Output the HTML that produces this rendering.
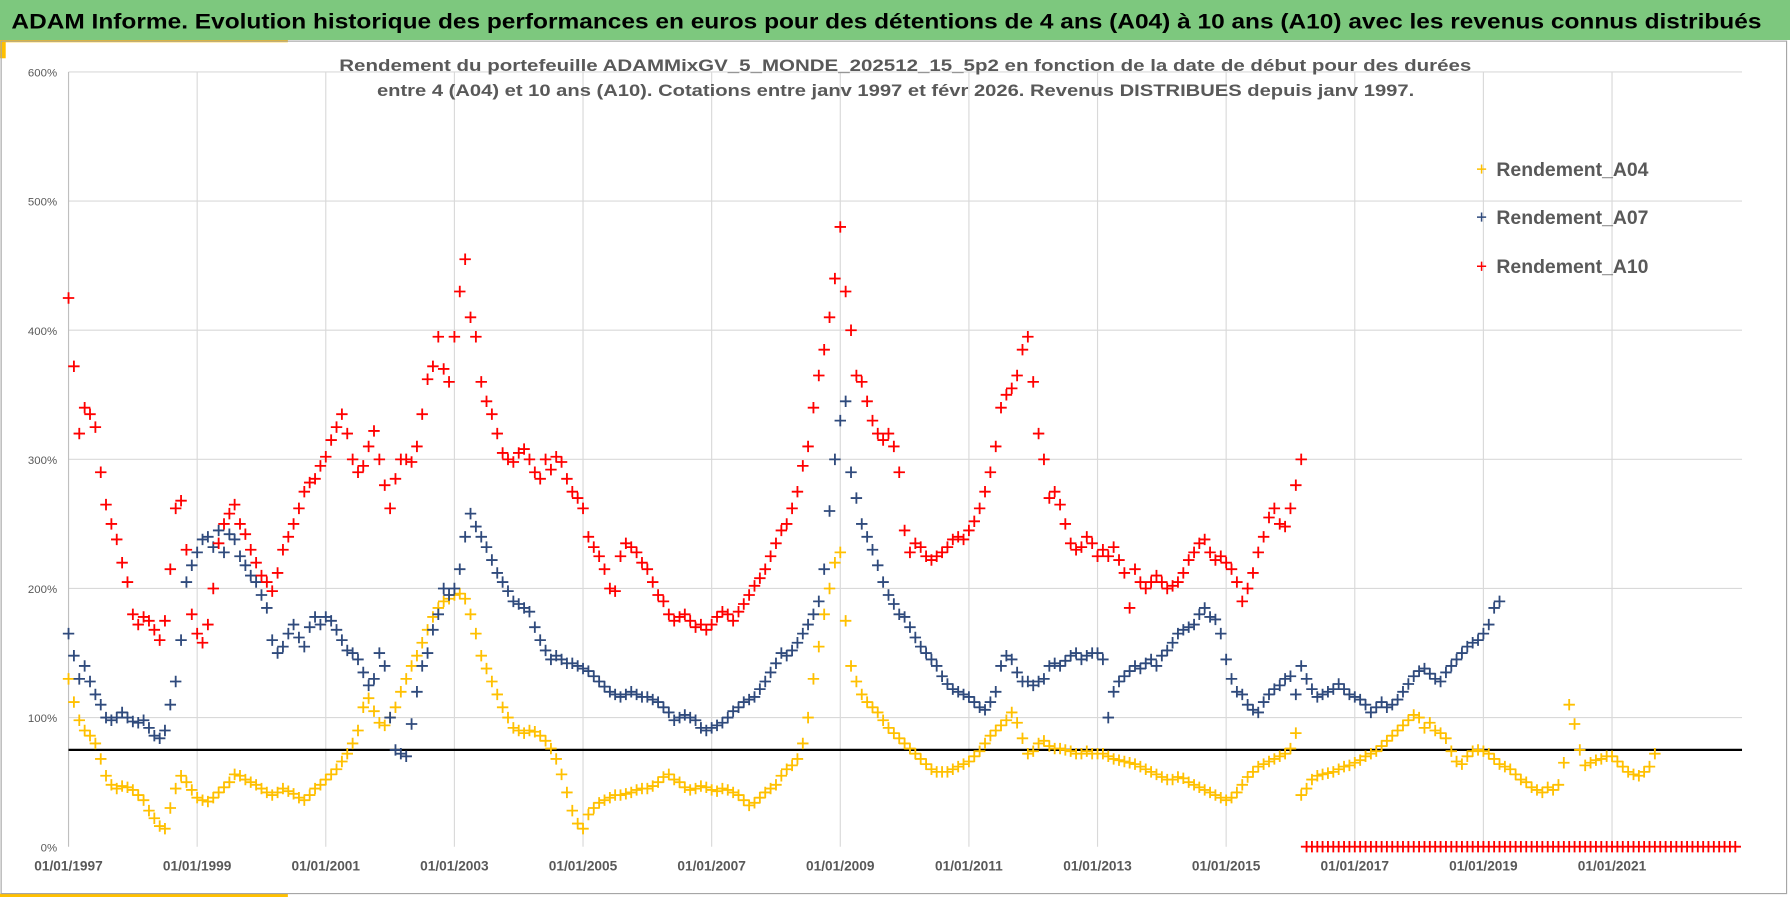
<!DOCTYPE html>
<html><head><meta charset="utf-8">
<style>
html,body{margin:0;padding:0;background:#fff;}
svg{display:block;font-family:"Liberation Sans",sans-serif;}
</style></head>
<body>
<svg id="chart" width="1790" height="897" viewBox="0 0 1567 785" preserveAspectRatio="none" xmlns="http://www.w3.org/2000/svg">
<rect x="0" y="0" width="1567" height="785" fill="#fff"/>
<rect x="0" y="0" width="1567" height="35" fill="#7dc87e"/>
<text x="10" y="25" font-size="18.5" font-weight="bold" fill="#000" textLength="1532" lengthAdjust="spacingAndGlyphs">ADAM Informe. Evolution historique des performances en euros pour des détentions de 4 ans (A04) à 10 ans (A10) avec les revenus connus distribués</text>
<rect x="0" y="35" width="252" height="2" fill="#ffc000"/>
<rect x="0" y="35" width="5" height="16" fill="#ffc000"/>
<rect x="0" y="782" width="252" height="3" fill="#ffc000"/>
<rect x="1" y="36" width="1563" height="746" fill="none" stroke="#a6a6a6" stroke-width="1"/>
<g id="grid"></g>
<text x="297" y="62" font-size="14.5" font-weight="bold" fill="#595959" textLength="991" lengthAdjust="spacingAndGlyphs">Rendement du portefeuille ADAMMixGV_5_MONDE_202512_15_5p2  en fonction de la date de début pour des durées</text>
<text x="330" y="84" font-size="14.5" font-weight="bold" fill="#595959" textLength="908" lengthAdjust="spacingAndGlyphs">entre 4 (A04) et 10 ans (A10). Cotations  entre janv 1997 et févr 2026. Revenus DISTRIBUES depuis janv 1997.</text>
<g id="series"></g>
<g id="legend"></g>
</svg>
<script>
const yTicks = [0,100,200,300,400,500,600];
const xTickYears = [1997,1999,2001,2003,2005,2007,2009,2011,2013,2015,2017,2019,2021];
const xTickLabels = ["01/01/1997","01/01/1999","01/01/2001","01/01/2003","01/01/2005","01/01/2007","01/01/2009","01/01/2011","01/01/2013","01/01/2015","01/01/2017","01/01/2019","01/01/2021"];
const refLevel = 75;
const seriesNames = ["Rendement_A04","Rendement_A07","Rendement_A10"];
const startYear = 1997;
const a04 = [
130,112,98,90,86,80,68,55,48,45,47,46,
44,40,36,28,22,16,14,30,45,55,50,44,
38,36,35,38,42,46,50,56,55,52,50,48,
45,42,40,42,45,43,41,38,36,40,45,48,
52,56,60,66,72,80,90,108,115,105,96,94,
100,108,120,130,140,148,158,168,178,185,190,192,
195,196,192,180,165,148,138,128,118,108,100,92,
90,88,90,89,86,82,76,68,56,42,28,18,
14,25,30,34,36,38,40,40,41,42,44,45,
45,47,50,54,56,52,50,46,44,45,47,46,
44,43,45,44,42,40,36,32,34,38,42,45,
48,55,60,63,68,80,100,130,155,180,200,220,
228,175,140,128,118,112,108,104,98,92,88,84,
80,76,72,68,64,60,58,58,58,60,62,64,
66,70,74,80,86,90,94,98,104,96,84,72,
74,80,82,78,76,76,75,74,72,72,74,72,
72,72,70,68,67,66,65,64,62,60,58,56,
54,52,52,54,53,50,48,46,44,42,40,38,
36,38,42,48,54,58,62,64,66,68,70,72,
76,88,40,45,52,55,56,57,58,60,62,63,
65,67,70,72,74,78,82,86,90,94,98,102,
100,92,96,90,88,84,74,66,64,70,74,75,
74,72,68,64,62,60,56,52,50,46,44,42,
46,44,48,65,110,95,75,63,65,67,68,70,
70,66,62,58,56,55,58,62,72
];
const a07 = [
165,148,130,140,128,118,110,100,98,100,104,100,
97,96,98,92,86,84,90,110,128,160,205,218,
228,238,240,232,245,228,242,238,225,218,210,205,
195,185,160,150,155,165,172,162,155,170,178,172,
178,175,168,160,152,150,145,135,125,130,150,140,
100,75,72,70,95,120,140,150,168,180,200,195,
200,215,240,258,248,240,232,222,212,205,198,190,
188,185,182,170,160,152,145,148,145,142,142,140,
138,136,132,128,124,120,118,116,118,120,118,116,
116,114,112,108,104,98,100,102,100,98,92,90,
92,94,96,100,105,108,112,114,116,122,128,135,
142,150,148,152,158,165,172,180,190,215,260,300,
330,345,290,270,250,240,230,218,205,195,188,180,
178,170,162,155,150,145,140,132,126,122,120,118,
116,112,108,106,112,120,140,148,145,135,128,128,
125,128,130,140,142,140,144,148,150,145,148,150,
150,145,100,120,128,132,136,140,138,142,145,140,
148,152,158,165,168,170,172,180,185,178,176,165,
145,130,120,118,110,106,104,112,118,122,125,130,
132,118,140,130,122,116,118,120,122,126,122,118,
116,114,110,104,108,112,108,110,114,120,126,132,
136,138,134,130,128,135,140,145,150,155,158,160,
165,172,185,190
];
const a10 = [
425,372,320,340,335,325,290,265,250,238,220,205,
180,172,178,175,168,160,175,215,262,268,230,180,
165,158,172,200,235,250,258,265,250,242,230,220,
210,205,198,212,230,240,250,262,275,282,285,295,
302,315,325,335,320,300,290,295,310,322,300,280,
262,285,300,300,298,310,335,362,372,395,370,360,
395,430,455,410,395,360,345,335,320,305,300,298,
305,308,300,290,285,300,292,302,298,285,275,270,
262,240,232,225,215,200,198,225,235,232,228,220,
215,205,195,190,180,175,178,180,175,170,172,168,
172,178,182,180,175,182,188,195,202,208,215,225,
235,245,250,262,275,295,310,340,365,385,410,440,
480,430,400,365,360,345,330,320,315,320,310,290,
245,228,235,232,225,222,225,228,232,238,240,238,
245,252,262,275,290,310,340,350,355,365,385,395,
360,320,300,270,275,265,250,235,230,232,240,235,
225,230,225,232,222,212,185,215,205,200,205,210,
205,200,202,205,212,222,228,235,238,228,222,225,
220,215,205,190,200,212,228,240,255,262,250,248,
262,280,300,0,0,0,0,0,0,0,0,0,
0,0,0,0,0,0,0,0,0,0,0,0,
0,0,0,0,0,0,0,0,0,0,0,0,
0,0,0,0,0,0,0,0,0,0,0,0,
0,0,0,0,0,0,0,0,0,0,0,0,
0,0,0,0,0,0,0,0,0,0,0,0,
0,0,0,0,0,0,0,0,0,0,0,0
];
const seriesColors = ["#ffc000","#2f4a7c","#ff0000"];

const NS = "http://www.w3.org/2000/svg";
const X0 = 60, X1 = 1525, PX_PER_YEAR = 56.3;
const Y0 = 741, PX_PER_PCT = 1.13;
function xScale(year){ return X0 + (year - startYear) * PX_PER_YEAR; }
function yScale(v){ return Y0 - v * PX_PER_PCT; }
function mk(tag, attrs){ const e = document.createElementNS(NS, tag); for (const k in attrs) e.setAttribute(k, attrs[k]); return e; }

const grid = document.getElementById('grid');
yTicks.forEach(function(t){
  const y = yScale(t);
  if (t > 0) {
    const l = mk('line', {x1:X0, x2:X1, y1:y, y2:y, stroke:'#d9d9d9', 'stroke-width':1});
    
    
    grid.appendChild(l);
  }
  const tx = mk('text', {x:50, y:y+4, 'font-size':10, fill:'#595959', 'text-anchor':'end'});
  tx.textContent = t + '%';
  
  
  grid.appendChild(tx);
});
xTickYears.forEach(function(yr, i){
  const x = xScale(yr);
  const l = mk('line', {x1:x, x2:x, y1:yScale(600), y2:Y0, stroke: i===0 ? '#bfbfbf' : '#d9d9d9', 'stroke-width':1});
  
  
  grid.appendChild(l);
  const tx = mk('text', {x:x, y:762, 'font-size':12, 'font-weight':'bold', fill:'#595959', 'text-anchor':'middle'});
  tx.textContent = xTickLabels[i];
  
  
  grid.appendChild(tx);
});
const ref = mk('line', {x1:X0, x2:X1, y1:yScale(refLevel), y2:yScale(refLevel), stroke:'#000', 'stroke-width':2});


grid.appendChild(ref);

const seriesG = document.getElementById('series');
function drawSeries(vals, color, name){
  const g = mk('g', {stroke:color, 'stroke-width':1.6, fill:'none'});
  
  
  let d = '';
  vals.forEach(function(v, i){
    const x = xScale(startYear + i/12), y = yScale(v);
    d += 'M' + (x-5).toFixed(1) + ' ' + y.toFixed(1) + 'h10M' + x.toFixed(1) + ' ' + (y-5).toFixed(1) + 'v10';
  });
  const p = mk('path', {d:d});
  
  
  g.appendChild(p);
  seriesG.appendChild(g);
}
drawSeries(a04, seriesColors[0], 'series-a04');
drawSeries(a07, seriesColors[1], 'series-a07');
drawSeries(a10, seriesColors[2], 'series-a10');

const legend = document.getElementById('legend');
const legendY = [148, 190, 233];
seriesNames.forEach(function(n, i){
  const y = legendY[i];
  const m = mk('path', {d:'M1293 '+y+'h8M1297 '+(y-4)+'v8', stroke:seriesColors[i], 'stroke-width':1.3});
  
  
  legend.appendChild(m);
  const t = mk('text', {x:1310, y:y+6, 'font-size':17, 'font-weight':'bold', fill:'#595959'});
  t.textContent = n;
  
  
  legend.appendChild(t);
});
</script>
</body></html>
